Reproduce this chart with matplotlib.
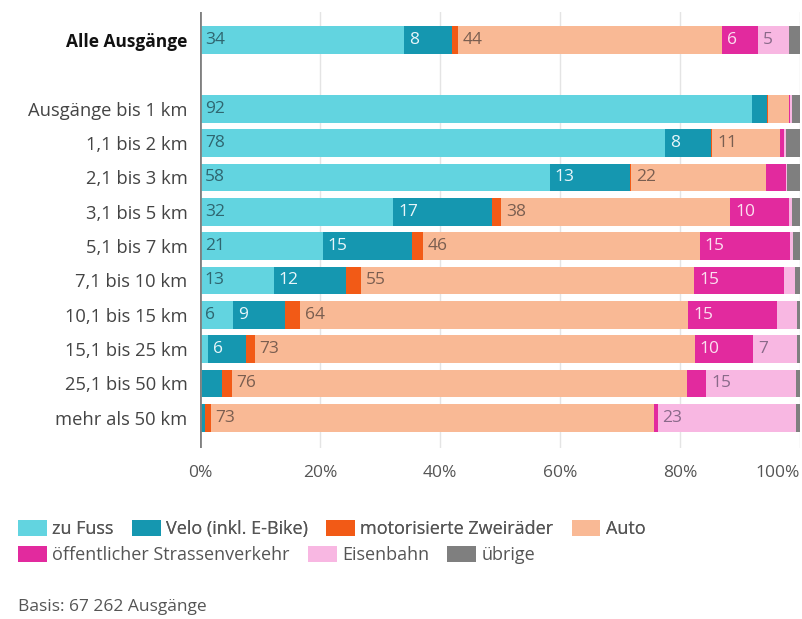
import matplotlib
matplotlib.use('Agg')
import matplotlib.pyplot as plt
from matplotlib.patches import Patch
import numpy as np

plt.rcParams['font.family'] = ['Open Sans', 'DejaVu Sans']

# rows, top to bottom (a blank slot is left after "Alle Ausgänge")
categories = ['Alle Ausgänge', 'Ausgänge bis 1 km', '1,1 bis 2 km', '2,1 bis 3 km',
              '3,1 bis 5 km', '5,1 bis 7 km', '7,1 bis 10 km', '10,1 bis 15 km',
              '15,1 bis 25 km', '25,1 bis 50 km', 'mehr als 50 km']
row_pos = [0, 2, 3, 4, 5, 6, 7, 8, 9, 10, 11]

modes = ['zu Fuss', 'Velo (inkl. E-Bike)', 'motorisierte Zweiräder', 'Auto',
         'öffentlicher Strassenverkehr', 'Eisenbahn', 'übrige']
colors = ['#62d4e0', '#1597b0', '#f25a16', '#f9b995', '#e22a9e', '#f8b7e2', '#7f7f7f']
text_colors = ['#2f6670', '#e8f6fa', '#ffffff', '#7a5e50', '#fbe0f0', '#8a6a8a', '#ffffff']

# shares in percent, one list per mode, same order as categories
zu_fuss = [34, 92, 77.5, 58.3, 32.2, 20.5, 12.3, 5.5, 1.3, 0.3, 0.2]
velo = [8, 2.5, 7.7, 13.4, 16.5, 14.8, 12.0, 8.7, 6.3, 3.3, 0.7]
motorrad = [1, 0.2, 0.2, 0.2, 1.5, 1.8, 2.5, 2.5, 1.5, 1.7, 0.9]
auto = [44, 3.5, 11.2, 22.5, 38.2, 46.2, 55.6, 64.7, 73.4, 75.8, 73.8]
oev = [6, 0.2, 0.7, 3.3, 9.8, 15.0, 15.0, 14.7, 9.7, 3.3, 0.7]
bahn = [5.2, 0.2, 0.3, 0.2, 0.5, 0.5, 1.7, 3.4, 7.3, 15.0, 23.1]
uebrige = [1.8, 1.4, 2.4, 2.1, 1.3, 1.2, 0.9, 0.5, 0.5, 0.6, 0.6]
series = [zu_fuss, velo, motorrad, auto, oev, bahn, uebrige]

# printed value labels (None = no label)
labels = [
    [34, 92, 78, 58, 32, 21, 13, 6, None, None, None],
    [8, None, 8, 13, 17, 15, 12, 9, 6, None, None],
    [None] * 11,
    [44, None, 11, 22, 38, 46, 55, 64, 73, 76, 73],
    [6, None, None, None, 10, 15, 15, 15, 10, None, None],
    [5, None, None, None, None, None, None, None, 7, 15, 23],
    [None] * 11,
]

xticks = [0, 20, 40, 60, 80, 100]
xticklabels = ['0%', '20%', '40%', '60%', '80%', '100%']

fig = plt.figure(figsize=(8.03, 6.19), dpi=100)
ax = fig.add_axes([200 / 803, 1 - 448 / 619, 600 / 803, 436 / 619])

for x in xticks[1:]:
    ax.axvline(x, color='#e4e4e4', lw=1, zorder=0)

left = np.zeros(len(categories))
for vals, col, tcol, labs in zip(series, colors, text_colors, labels):
    vals = np.array(vals, dtype=float)
    ax.barh(row_pos, vals, left=left, height=0.8, color=col, zorder=2)
    for y, l, lab in zip(row_pos, left, labs):
        if lab is not None:
            ax.text(l + 0.8, y, str(lab), va='center', ha='left',
                    fontsize=12.5, color=tcol, zorder=3)
    left += vals

ax.axvline(0, color='#808080', lw=2, zorder=4)
ax.set_xlim(0, 100)
ax.set_ylim(11.88, -0.82)
ax.set_yticks(row_pos)
ax.set_yticklabels(categories, fontsize=13.2, color='#444444')
ax.get_yticklabels()[0].set_fontweight('bold')
ax.get_yticklabels()[0].set_fontsize(12.5)
ax.get_yticklabels()[0].set_color('#111111')
ax.set_xticks(xticks)
ax.set_xticklabels(xticklabels, fontsize=12.5, color='#555555')
ax.get_xticklabels()[-1].set_horizontalalignment('right')
ax.tick_params(axis='y', length=0, pad=9)
ax.tick_params(axis='x', length=0, pad=12)
for s in ax.spines.values():
    s.set_visible(False)

handles = [Patch(facecolor=c, edgecolor='none') for c in colors]
leg_kw = dict(loc='upper left', frameon=False, fontsize=13, handlelength=1.6,
              handleheight=0.95, handletextpad=0.3, columnspacing=1.0,
              borderpad=0, borderaxespad=0, labelcolor='#555555')
leg1 = fig.legend(handles[:4], modes[:4], ncol=4,
                  bbox_to_anchor=(18 / 803, 1 - 520 / 619), **leg_kw)
fig.add_artist(leg1)
fig.legend(handles[4:], modes[4:], ncol=3,
           bbox_to_anchor=(18 / 803, 1 - 546 / 619), **leg_kw)

fig.text(18 / 803, 1 - 607 / 619, 'Basis: 67 262 Ausgänge', fontsize=12.5,
         color='#555555', va='center', ha='left')

fig.savefig('out.png', dpi=100)
